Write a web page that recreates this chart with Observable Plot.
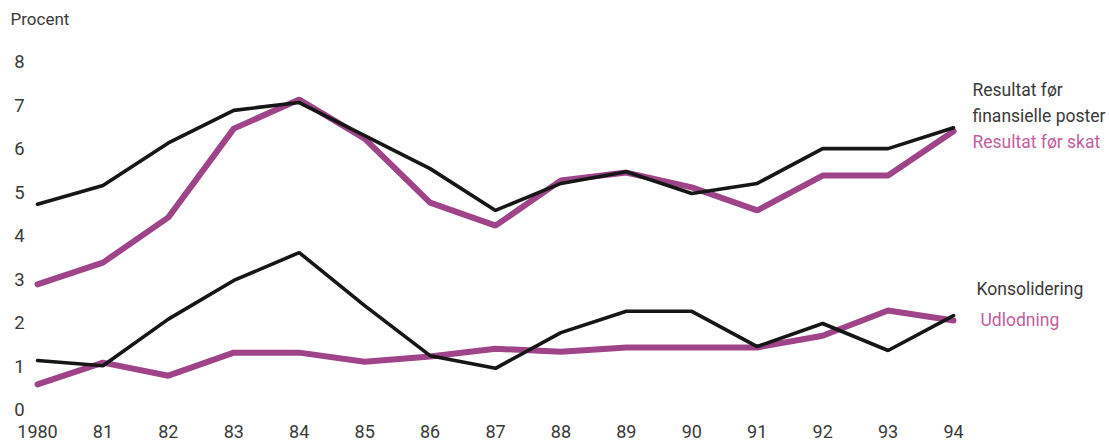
<!DOCTYPE html>
<html><head><meta charset="utf-8">
<script src="https://cdn.jsdelivr.net/npm/d3@7"></script>
<script src="https://cdn.jsdelivr.net/npm/@observablehq/plot@0.6"></script>
<style>body{margin:0;background:#fff;font-family:Roboto,"Noto Sans",sans-serif;}</style>
</head><body><div id="chart"></div>
<script>
const years = [1980,1981,1982,1983,1984,1985,1986,1987,1988,1989,1990,1991,1992,1993,1994];
const xLabels = ["1980","81","82","83","84","85","86","87","88","89","90","91","92","93","94"];
const yTicks = [0,1,2,3,4,5,6,7,8];
const resultatFinans = [4.74,5.17,6.15,6.9,7.08,6.32,5.56,4.6,5.22,5.49,4.99,5.22,6.02,6.02,6.5];
const resultatSkat   = [2.9,3.4,4.44,6.48,7.15,6.25,4.78,4.25,5.29,5.47,5.13,4.6,5.4,5.4,6.42];
const konsolidering  = [1.15,1.03,2.1,2.99,3.63,2.41,1.26,0.97,1.79,2.28,2.28,1.47,2.0,1.38,2.18];
const udlodning      = [0.6,1.1,0.8,1.33,1.33,1.12,1.24,1.42,1.35,1.45,1.45,1.45,1.72,2.3,2.07];
const seriesNames = ["Resultat før\nfinansielle poster","Resultat før skat","Konsolidering","Udlodning"];

const black = "#161616", pinkLine = "#a0448a", pinkText = "#c45d9d", textGrey = "#3a3a3a";
const mk = (vals, name) => years.map((y,i)=>({year:y, v:vals[i], name}));
const sF = mk(resultatFinans, seriesNames[0]);
const sS = mk(resultatSkat, seriesNames[1]);
const sK = mk(konsolidering, seriesNames[2]);
const sU = mk(udlodning, seriesNames[3]);
const last = a => [a[a.length-1]];

const chart = Plot.plot({
  width: 1109, height: 446,
  marginLeft: 37, marginRight: 156, marginTop: 62, marginBottom: 36,
  style: {fontFamily: "Roboto, sans-serif", background: "#fff"},
  x: {domain: [1980, 1994], axis: null},
  y: {domain: [0, 8], axis: null},
  marks: [
    Plot.axisY({ticks: yTicks, tickSize: 0, tickPadding: 13, label: null, fontSize: 18.5, fill: textGrey, textAnchor: "middle", dx: -5}),
    Plot.axisX({ticks: years, tickFormat: d => xLabels[years.indexOf(d)], tickSize: 0, tickPadding: 15, label: null, fontSize: 18, fill: textGrey}),
    Plot.text(["Procent"], {frameAnchor: "top-left", dx: -27, dy: -43, textAnchor: "start", lineAnchor: "middle", fontSize: 17, fill: textGrey}),
    Plot.line(sU, {x: "year", y: "v", stroke: pinkLine, strokeWidth: 6, strokeLinejoin: "miter"}),
    Plot.line(sK, {x: "year", y: "v", stroke: black, strokeWidth: 3.6, strokeLinejoin: "miter"}),
    Plot.line(sS, {x: "year", y: "v", stroke: pinkLine, strokeWidth: 6, strokeLinejoin: "miter"}),
    Plot.line(sF, {x: "year", y: "v", stroke: black, strokeWidth: 3.6, strokeLinejoin: "miter"}),
    Plot.text(last(sF), {x: "year", y: "v", text: "name", dx: 19, dy: -27, textAnchor: "start", lineAnchor: "middle", lineHeight: 1.5, fontSize: 17.5, fill: textGrey}),
    Plot.text(last(sS), {x: "year", y: "v", text: "name", dx: 19, dy: 11, textAnchor: "start", lineAnchor: "middle", fontSize: 17.5, fill: pinkText}),
    Plot.text(last(sK), {x: "year", y: "v", text: "name", dx: 23, dy: -26, textAnchor: "start", lineAnchor: "middle", fontSize: 17.5, fill: textGrey}),
    Plot.text(last(sU), {x: "year", y: "v", text: "name", dx: 27, dy: 0, textAnchor: "start", lineAnchor: "middle", fontSize: 17.5, fill: pinkText})
  ]
});
document.getElementById("chart").appendChild(chart);
</script></body></html>
